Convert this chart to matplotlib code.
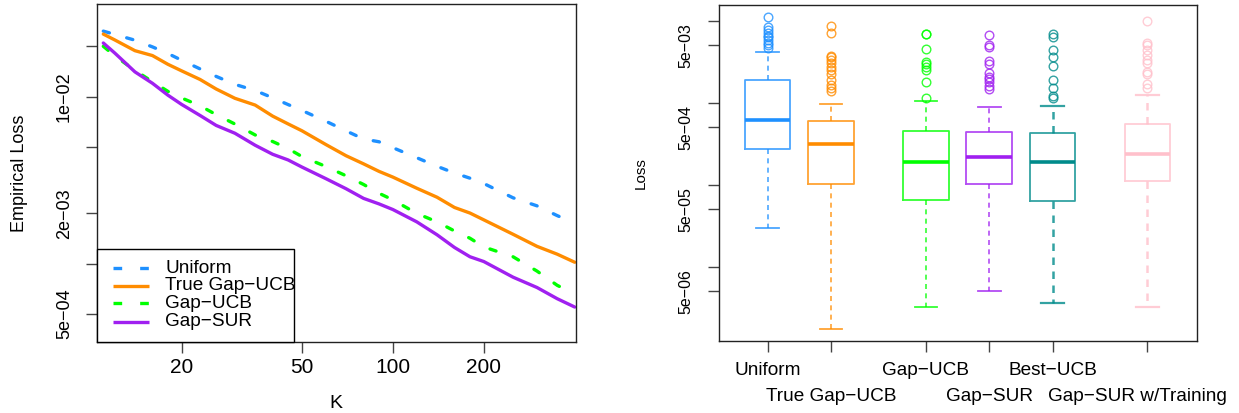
import matplotlib
matplotlib.use("Agg")
import matplotlib.pyplot as plt
import matplotlib.transforms as mtransforms
from matplotlib.lines import Line2D
from matplotlib.patches import Rectangle
from matplotlib.ticker import NullLocator, FixedLocator

plt.rcParams['font.family'] = ['Liberation Sans', 'DejaVu Sans']

# ---------------- data: left panel ----------------
K = [11, 12, 14, 16, 18, 20, 23, 26, 30, 35, 40, 45, 50, 60, 70, 80, 90, 100,
     120, 140, 160, 180, 200, 250, 300, 350, 400]
uniform = [0.0247, 0.02361, 0.02179, 0.01987, 0.01814, 0.01652, 0.01467, 0.01323,
           0.01185, 0.01089, 0.00985, 0.00897, 0.00827, 0.00713, 0.00624, 0.00558,
           0.00537, 0.00495, 0.00431, 0.00383, 0.00349, 0.00325, 0.00302, 0.00248,
           0.00222, 0.00194, 0.00175]
true_gap_ucb = [0.02371, 0.02188, 0.01886, 0.01763, 0.01563, 0.01427, 0.01268, 0.01112,
                0.00978, 0.00891, 0.00765, 0.00687, 0.00625, 0.00517, 0.00443, 0.00396,
                0.00357, 0.00330, 0.00283, 0.00250, 0.00217, 0.00201, 0.00183, 0.00150,
                0.00127, 0.00114, 0.00102]
gap_ucb = [0.02003, 0.01758, 0.01437, 0.01230, 0.01076, 0.00982, 0.00882, 0.00781,
           0.00686, 0.00590, 0.00539, 0.00489, 0.00438, 0.00382, 0.00336, 0.00298,
           0.00264, 0.00241, 0.00200, 0.00178, 0.00157, 0.00142, 0.00126, 0.00110,
           0.000903, 0.000742, 0.000658]
gap_sur = [0.02097, 0.01827, 0.01408, 0.01203, 0.01021, 0.00898, 0.00772, 0.00673,
           0.00604, 0.00512, 0.00452, 0.00418, 0.00379, 0.00323, 0.00281, 0.00246,
           0.00228, 0.00211, 0.00178, 0.00149, 0.00125, 0.00110, 0.00103, 0.000830,
           0.000720, 0.000617, 0.000550]
line_names = ["Uniform", "True Gap\u2212UCB", "Gap\u2212UCB", "Gap\u2212SUR"]
left_xticks = [20, 50, 100, 200]
left_yticks = [2e-2, 1e-2, 5e-3, 2e-3, 1e-3, 5e-4]
left_yticklabels = ["", "1e\u221202", "", "2e\u221203", "", "5e\u221204"]

# ---------------- data: right panel ----------------
box_names = ["Uniform", "True Gap\u2212UCB", "Gap\u2212UCB", "Gap\u2212SUR",
             "Best\u2212UCB", "Gap\u2212SUR w/Training"]
box_pos = [1, 2, 3.5, 4.5, 5.5, 7]
whis_hi = [4.11e-3, 9.70e-4, 1.04e-3, 8.91e-4, 9.02e-4, 1.23e-3]
q3 = [1.87e-3, 5.92e-4, 4.55e-4, 4.42e-4, 4.30e-4, 5.53e-4]
med = [6.14e-4, 3.13e-4, 1.90e-4, 2.17e-4, 1.90e-4, 2.34e-4]
q1 = [2.70e-4, 1.03e-4, 6.44e-5, 1.02e-4, 6.37e-5, 1.10e-4]
whis_lo = [2.98e-5, 1.72e-6, 3.24e-6, 5.04e-6, 3.57e-6, 3.24e-6]
fliers_uniform = [1.117e-2, 8.29e-3, 7.69e-3, 7.0e-3, 6.49e-3, 6.26e-3, 5.80e-3,
                  5.38e-3, 5.04e-3, 4.60e-3]
fliers_true = [8.67e-3, 7.0e-3, 3.70e-3, 3.57e-3, 3.31e-3, 3.02e-3, 2.74e-3, 2.50e-3,
               2.23e-3, 1.89e-3, 1.64e-3, 1.50e-3, 1.40e-3]
fliers_gapucb = [6.93e-3, 6.85e-3, 4.55e-3, 3.16e-3, 2.96e-3, 2.74e-3, 2.50e-3,
                 1.80e-3, 1.13e-3]
fliers_gapsur = [6.62e-3, 5.04e-3, 4.81e-3, 3.24e-3, 2.96e-3, 2.32e-3, 2.07e-3,
                 1.92e-3, 1.80e-3, 1.60e-3, 1.45e-3]
fliers_best = [6.81e-3, 6.26e-3, 4.38e-3, 3.57e-3, 2.80e-3, 1.89e-3, 1.50e-3,
               1.20e-3, 1.13e-3]
fliers_train = [9.98e-3, 5.38e-3, 5.04e-3, 4.38e-3, 3.81e-3, 3.31e-3, 3.07e-3,
                2.38e-3, 2.23e-3, 1.69e-3, 1.50e-3]
fliers = [fliers_uniform, fliers_true, fliers_gapucb, fliers_gapsur, fliers_best,
          fliers_train]
right_yticks = [1e-2, 5e-3, 1e-3, 5e-4, 1e-4, 5e-5, 1e-5, 5e-6]
right_yticklabels = ["", "5e\u221203", "", "5e\u221204", "", "5e\u221205", "", "5e\u221206"]

line_colors = ["#1E90FF", "#FF8C00", "#00FF00", "#A020F0"]
box_colors = ["#1E90FF", "#FF8C00", "#00FF00", "#A020F0", "#008B8B", "#FFC0CB"]

W, H = 1239, 413
fig = plt.figure(figsize=(W / 100, H / 100), dpi=100)


def axrect(x0, x1, y0, y1):
    return [x0 / W, 1 - y1 / H, (x1 - x0) / W, (y1 - y0) / H]


FRAME = "#222222"

# ---------------- left panel ----------------
ax = fig.add_axes(axrect(96.7, 575.7, 4, 341.7))
series = [uniform, true_gap_ucb, gap_ucb, gap_sur]
styles = ["dash", "solid", "dash", "solid"]
for vals, col, st in zip(series, line_colors, styles):
    if st == "dash":
        ax.plot(K, vals, color=col, lw=2.4, dashes=(1.9, 5.4),
                dash_capstyle="round", solid_capstyle="round")
    else:
        ax.plot(K, vals, color=col, lw=2.4, solid_capstyle="round",
                solid_joinstyle="round")
ax.set_xscale("log")
ax.set_yscale("log")
ax.set_xlim(10.46, 403)
ax.set_ylim(3.41e-4, 0.0359)
ax.xaxis.set_major_locator(FixedLocator(left_xticks))
ax.set_xticklabels([str(v) for v in left_xticks])
ax.xaxis.set_minor_locator(NullLocator())
ax.yaxis.set_major_locator(FixedLocator(left_yticks))
ax.set_yticklabels(left_yticklabels, rotation=90, va="center")
ax.yaxis.set_minor_locator(NullLocator())
ax.tick_params(axis="x", length=8, width=1, color="#444444", labelsize=15, pad=4)
ax.tick_params(axis="y", length=8, width=1, color="#444444", labelsize=13, pad=9)
for s in ax.spines.values():
    s.set_color(FRAME)
    s.set_linewidth(1.0)
ax.set_xlabel("K", fontsize=14, labelpad=13)
ax.set_ylabel("Empirical Loss", fontsize=13, labelpad=20)

# legend (framed box in the lower-left corner)
ax_w, ax_h = 575.7 - 96.7, 341.7 - 4


def ax_frac(px, py):
    return ((px - 96.7) / ax_w, (341.7 - py) / ax_h)


lx0, ly1 = ax_frac(96.7, 249.3)
lx1, _ = ax_frac(294.3, 249.3)
ax.add_patch(Rectangle((0, 0), lx1, ly1, transform=ax.transAxes, fill=True,
                       facecolor="white", edgecolor="black", lw=1.0, zorder=5,
                       clip_on=False))
rows_py = [268.3, 285.7, 303.3, 321.7]
for name, col, st, py in zip(line_names, line_colors, styles, rows_py):
    xa, ya = ax_frac(112.7, py)
    xb, _ = ax_frac(149.3, py)
    kw = dict(color=col, lw=2.4, transform=ax.transAxes, zorder=6)
    if st == "dash":
        ln = Line2D([xa, xb], [ya, ya], dashes=(2.6, 5.4), dash_capstyle="butt", **kw)
    else:
        ln = Line2D([xa, xb], [ya, ya], solid_capstyle="butt", **kw)
    ax.add_line(ln)
    xt, _ = ax_frac(165.3, py)
    ax.text(xt, ya, name, transform=ax.transAxes, fontsize=13.7, va="center",
            ha="left", zorder=7)

# ---------------- right panel ----------------
bx = fig.add_axes(axrect(718.7, 1197.3, 4.7, 341.3))
stats = []
for i in range(len(box_names)):
    stats.append(dict(med=med[i], q1=q1[i], q3=q3[i], whislo=whis_lo[i],
                      whishi=whis_hi[i], fliers=fliers[i], label=box_names[i]))
bp = bx.bxp(stats, positions=box_pos, widths=0.72, showfliers=True,
            manage_ticks=False)
for i, col in enumerate(box_colors):
    a = 0.8
    bp["boxes"][i].set(color=col, lw=1.3, alpha=a)
    bp["medians"][i].set(color=col, lw=2.6, solid_capstyle="butt")
    wl = 1.8 if i >= 4 else 1.2
    for w in bp["whiskers"][2 * i:2 * i + 2]:
        w.set(color=col, lw=wl, alpha=a, linestyle=(0, (3, 2.6)))
    for c in bp["caps"][2 * i:2 * i + 2]:
        c.set(color=col, lw=1.3 if i < 4 else 1.6, alpha=a)
    bp["fliers"][i].set(marker="o", markerfacecolor="none", markeredgecolor=col,
                        markersize=6.2, markeredgewidth=1.0, alpha=a)
bx.set_yscale("log")
bx.set_xlim(0.226, 7.787)
bx.set_ylim(1.23e-6, 1.563e-2)
bx.yaxis.set_major_locator(FixedLocator(right_yticks))
bx.set_yticklabels(right_yticklabels, rotation=90, va="center")
bx.yaxis.set_minor_locator(NullLocator())
bx.xaxis.set_major_locator(FixedLocator(box_pos))
bx.set_xticklabels([""] * len(box_pos))
bx.xaxis.set_minor_locator(NullLocator())
bx.tick_params(axis="x", length=8, width=1, color="#444444")
bx.tick_params(axis="y", length=8, width=1, color="#444444", labelsize=11.5, pad=10)
for s in bx.spines.values():
    s.set_color(FRAME)
    s.set_linewidth(1.0)
bx.set_ylabel("Loss", fontsize=11, labelpad=22)

trans = mtransforms.blended_transform_factory(bx.transData, fig.transFigure)
row_base = [375.0, 401.0]
for j, (name, p) in enumerate(zip(box_names, box_pos)):
    yb = 1 - row_base[j % 2] / H
    t = trans
    if j == len(box_names) - 1:
        t = trans + mtransforms.ScaledTranslation(-10 / 100, 0, fig.dpi_scale_trans)
    bx.text(p, yb, name, transform=t, ha="center", va="baseline", fontsize=13.7,
            clip_on=False)

fig.savefig("out.png", dpi=100)
